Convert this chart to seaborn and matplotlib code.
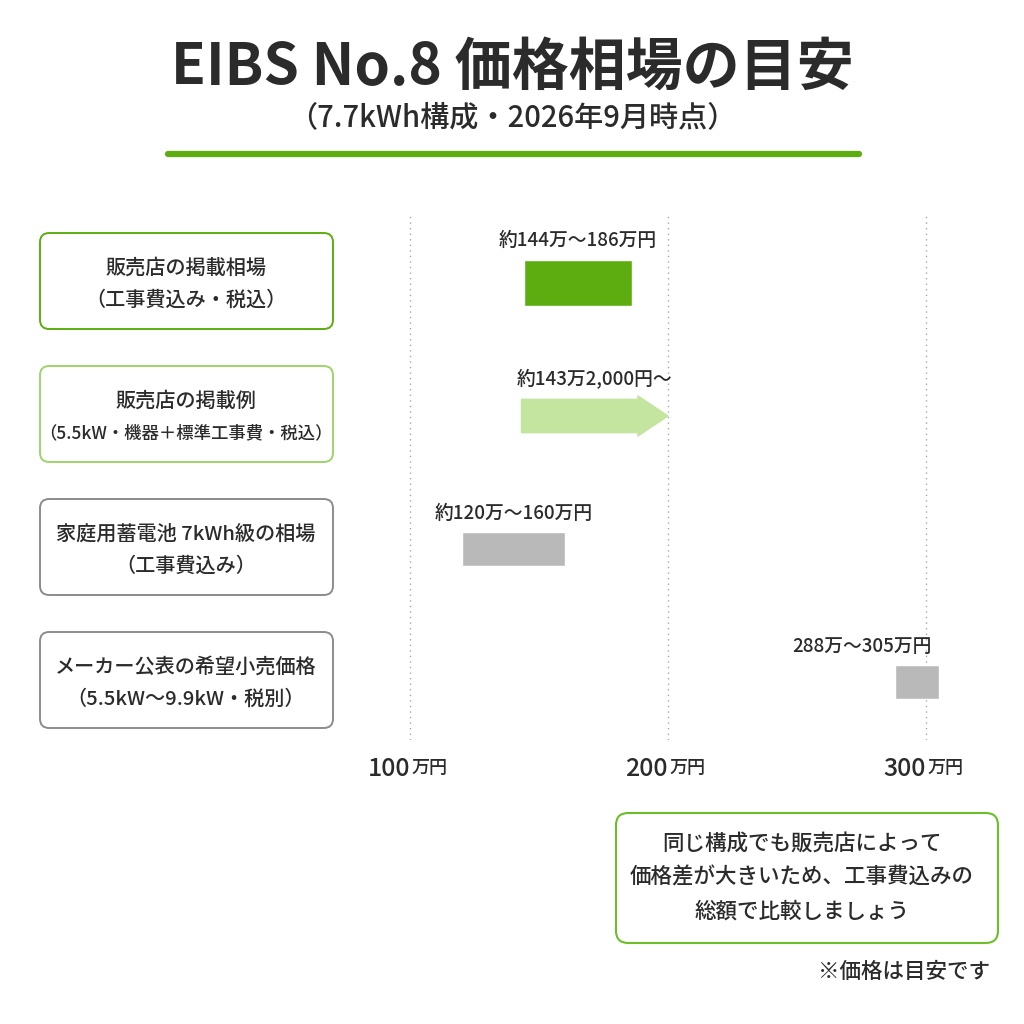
import matplotlib
matplotlib.use("Agg")
import matplotlib.pyplot as plt
import seaborn as sns
from matplotlib.patches import FancyBboxPatch
from matplotlib.lines import Line2D

# データ（万円）
row_names = [
    "販売店の掲載相場\n（工事費込み・税込）",
    "販売店の掲載例\n（5.5kW・機器＋標準工事費・税込）",
    "家庭用蓄電池 7kWh級の相場\n（工事費込み）",
    "メーカー公表の希望小売価格\n（5.5kW～9.9kW・税別）",
]
range_rows = [0, 2, 3]
range_low = [144, 120, 288]
range_high = [186, 160, 305]
range_labels = ["約144万～186万円", "約120万～160万円", "288万～305万円"]
arrow_row = 1
arrow_start = 143.2
arrow_end = 200
arrow_label = "約143万2,000円～"
ticks = [100, 200, 300]

sns.set_theme(style="white")
plt.rcParams['font.family'] = ['Noto Sans CJK JP', 'DejaVu Sans']

dark = "#2b2b2b"
green = "#5dad10"
light_green = "#c3e5a0"
grey = "#b9b9b9"
wt = "medium"

fig = plt.figure(figsize=(10.24, 10.24), dpi=100)
fig.patch.set_facecolor("white")

def fx(px):
    return px / 1024

def fy(px):
    return 1 - px / 1024

# タイトル
fig.text(0.5, fy(68), "EIBS No.8 価格相場の目安", ha="center", va="center",
         fontsize=41, fontweight="bold", color=dark)
fig.text(0.5, fy(118), "（7.7kWh構成・2026年9月時点）", ha="center", va="center",
         fontsize=21, fontweight=wt, color=dark)
fig.add_artist(Line2D([fx(168), fx(859)], [fy(154), fy(154)], color=green,
                      linewidth=4.5, solid_capstyle="round", transform=fig.transFigure))

# メインの軸
ax = fig.add_axes([fx(380), fy(740), fx(580), 525 / 1024])
ax.set_xlim(88.37, 313.18)
ax.set_ylim(3.436, -0.511)

heights = [0.35 if r == 0 else 0.25 for r in range_rows]
colors = [green if r == 0 else grey for r in range_rows]
spans = [h - l for l, h in zip(range_low, range_high)]
ax.barh(range_rows, spans, left=range_low, height=heights, color=colors, zorder=3)

for r, l, h, hgt, lab in zip(range_rows, range_low, range_high, heights, range_labels):
    if r == 3:
        xpos, ha = h - 3, "right"
    else:
        xpos, ha = (l + h) / 2, "center"
    ax.annotate(lab, xy=(xpos, r - hgt / 2), xytext=(0, 7), textcoords="offset points",
                ha=ha, va="bottom", fontsize=13.5, fontweight=wt, color=dark)

# 矢印
ax.annotate("", xy=(arrow_end, arrow_row), xytext=(arrow_start, arrow_row),
            arrowprops=dict(arrowstyle="simple,head_length=0.9,head_width=1.2,tail_width=1.0",
                            color=light_green, mutation_scale=24, shrinkA=0, shrinkB=0),
            zorder=3)
ax.annotate(arrow_label, xy=((arrow_start + arrow_end) / 2, arrow_row - 0.13),
            xytext=(0, 7), textcoords="offset points", ha="center", va="bottom",
            fontsize=13.5, fontweight=wt, color=dark)

# グリッド
for t in ticks:
    ax.axvline(t, color="#a8a8a8", linestyle=(0, (1, 3)), linewidth=1, zorder=1)
ax.set_xticks([])
ax.set_yticks([])
for s in ax.spines.values():
    s.set_visible(False)
ax.patch.set_alpha(0)

for t in ticks:
    ax.text(t, -0.03, str(t), transform=ax.get_xaxis_transform(), ha="right",
            va="top", fontsize=18, fontweight=wt, color=dark)
    ax.text(t + 0.5, -0.037, "万円", transform=ax.get_xaxis_transform(), ha="left",
            va="top", fontsize=13, fontweight=wt, color=dark)

# 左のラベルボックス
box_edges = [green, "#9fd46a", "#8c8c8c", "#8c8c8c"]
for i, (name, ec) in enumerate(zip(row_names, box_edges)):
    cy = 281 + 133 * i
    box = FancyBboxPatch((fx(40), fy(cy + 48)), fx(293), 96 / 1024,
                         boxstyle="round,pad=0,rounding_size=0.009",
                         facecolor="white", edgecolor=ec, linewidth=1.4,
                         transform=fig.transFigure)
    fig.add_artist(box)
    top, bottom = name.split("\n")
    fig.text(fx(186), fy(cy - 13), top, ha="center", va="center", fontsize=14.5,
             fontweight=wt, color=dark)
    fig.text(fx(186), fy(cy + 19), bottom, ha="center", va="center",
             fontsize=12.5 if i == 1 else 14.5, fontweight=wt, color=dark)

# 注記ボックス
note = FancyBboxPatch((fx(616), fy(943)), fx(382), 130 / 1024,
                      boxstyle="round,pad=0,rounding_size=0.012",
                      facecolor="white", edgecolor="#6dbf2a", linewidth=1.5,
                      transform=fig.transFigure)
fig.add_artist(note)
note_lines = ["同じ構成でも販売店によって", "価格差が大きいため、工事費込みの", "総額で比較しましょう"]
for j, line in enumerate(note_lines):
    fig.text(fx(802), fy(844 + 34 * j), line, ha="center", va="center",
             fontsize=15.5, fontweight=wt, color=dark)
fig.text(fx(990), fy(972), "※価格は目安です", ha="right", va="center",
         fontsize=15.5, fontweight=wt, color=dark)

fig.savefig("out.png", dpi=100, facecolor="white")
